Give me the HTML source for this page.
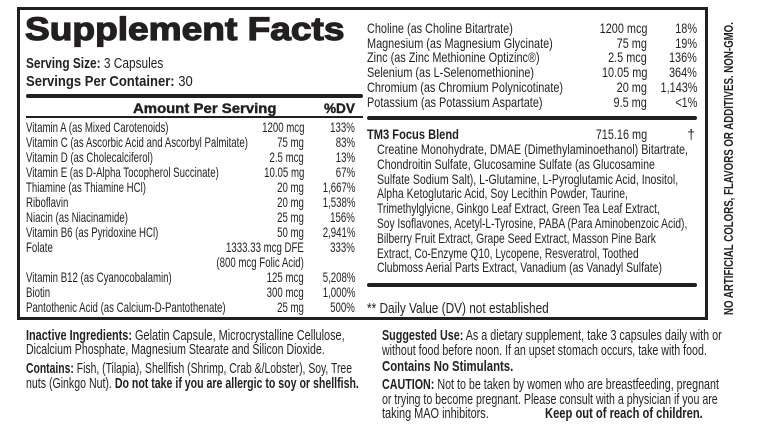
<!DOCTYPE html>
<html><head><meta charset="utf-8">
<style>
html,body{margin:0;padding:0;background:#fff;}
#root{position:relative;width:769px;height:427px;overflow:hidden;background:#fff;color:#231f20;font-family:"Liberation Sans Narrow","Liberation Sans",sans-serif;}
.t{position:absolute;white-space:nowrap;font-size:14px;line-height:14px;transform-origin:left center;}
.r{transform-origin:right center;}
b{font-family:"Liberation Sans",sans-serif;font-weight:bold;}
.rule{position:absolute;background:#231f20;border-radius:2px;}
</style></head>
<body>
<div id="root">
<div style="position:absolute;left:17px;top:7px;width:685px;height:307px;border:3px solid #231f20;"></div>

<div class="t" data-w="320" style="left:25px;top:13px;font-family:'Liberation Sans',sans-serif;font-weight:900;font-size:32px;line-height:32px;-webkit-text-stroke:1.2px #231f20;">Supplement Facts</div>
<div class="t" data-w="137" style="left:26px;top:56px;font-size:15px;line-height:15px;"><b>Serving Size:</b> 3 Capsules</div>
<div class="t" data-w="167" style="left:26px;top:74px;font-size:15px;line-height:15px;"><b>Servings Per Container:</b> 30</div>
<div class="rule" style="left:26px;top:94px;width:337px;height:4px;"></div>
<div class="t" data-w="144" style="left:133px;top:101px;-webkit-text-stroke:0.4px #231f20;"><b>Amount Per Serving</b></div>
<div class="t" data-w="31" style="left:324px;top:101px;-webkit-text-stroke:0.4px #231f20;"><b>%DV</b></div>
<div class="rule" style="left:26px;top:116px;width:337px;height:2px;border-radius:0;"></div>

<div id="left-rows"></div>

<div id="right-rows"></div>
<div class="rule" style="left:367px;top:116px;width:330px;height:4px;"></div>
<div class="t" data-w="92" style="left:367px;top:127px;"><b>TM3 Focus Blend</b></div>
<div class="t r" data-g="R" style="right:122px;top:127px;">715.16 mg</div>
<div class="t r" style="right:74px;top:127px;">†</div>
<div id="blend-lines"></div>
<div class="rule" style="left:367px;top:283px;width:330px;height:4px;"></div>
<div class="t" data-w="182" style="left:367px;top:301px;font-size:15px;line-height:15px;">** Daily Value (DV) not established</div>

<div class="t" data-w="319" style="left:26px;top:328px;font-size:15px;line-height:15px;"><b>Inactive Ingredients:</b> Gelatin Capsule, Microcrystalline Cellulose,</div>
<div class="t" data-w="299" style="left:26px;top:342px;font-size:15px;line-height:15px;">Dicalcium Phosphate, Magnesium Stearate and Silicon Dioxide.</div>
<div class="t" data-w="326" style="left:26px;top:361px;font-size:15px;line-height:15px;"><b>Contains:</b> Fish, (Tilapia), Shellfish (Shrimp, Crab &amp;/Lobster), Soy, Tree</div>
<div class="t" data-w="333" style="left:26px;top:376px;font-size:15px;line-height:15px;">nuts (Ginkgo Nut). <b>Do not take if you are allergic to soy or shellfish.</b></div>

<div class="t" data-w="340" style="left:382px;top:328px;font-size:15px;line-height:15px;"><b>Suggested Use:</b> As a dietary supplement, take 3 capsules daily with or</div>
<div class="t" data-w="325" style="left:382px;top:343px;font-size:15px;line-height:15px;">without food before noon. If an upset stomach occurs, take with food.</div>
<div class="t" data-w="131" style="left:382px;top:359px;font-size:15px;line-height:15px;"><b>Contains No Stimulants.</b></div>
<div class="t" data-w="337" style="left:382px;top:377px;font-size:15px;line-height:15px;"><b>CAUTION:</b> Not to be taken by women who are breastfeeding, pregnant</div>
<div class="t" data-w="336" style="left:382px;top:392px;font-size:15px;line-height:15px;">or trying to become pregnant. Please consult with a physician if you are</div>
<div class="t" data-w="107" style="left:382px;top:406px;font-size:15px;line-height:15px;">taking MAO inhibitors.</div>
<div class="t" data-w="158" style="left:545px;top:406px;font-size:15px;line-height:15px;"><b>Keep out of reach of children.</b></div>

<div class="t" id="vert" style="left:728px;top:315px;font-size:13px;line-height:13px;"><b>NO ARTIFICIAL COLORS, FLAVORS OR ADDITIVES. NON-GMO.</b></div>
</div>
<script>
const leftNames=["Vitamin A (as Mixed Carotenoids)","Vitamin C (as Ascorbic Acid and Ascorbyl Palmitate)","Vitamin D (as Cholecalciferol)","Vitamin E (as D-Alpha Tocopherol Succinate)","Thiamine (as Thiamine HCl)","Riboflavin","Niacin (as Niacinamide)","Vitamin B6 (as Pyridoxine HCl)","Folate","","Vitamin B12 (as Cyanocobalamin)","Biotin","Pantothenic Acid (as Calcium-D-Pantothenate)"];
const leftAmounts=["1200 mcg","75 mg","2.5 mcg","10.05 mg","20 mg","20 mg","25 mg","50 mg","1333.33 mcg DFE","(800 mcg Folic Acid)","125 mcg","300 mcg","25 mg"];
const leftDV=["133%","83%","13%","67%","1,667%","1,538%","156%","2,941%","333%","","5,208%","1,000%","500%"];
const rightNames=["Choline (as Choline Bitartrate)","Magnesium (as Magnesium Glycinate)","Zinc (as Zinc Methionine Optizinc®)","Selenium (as L-Selenomethionine)","Chromium (as Chromium Polynicotinate)","Potassium (as Potassium Aspartate)"];
const rightAmounts=["1200 mcg","75 mg","2.5 mcg","10.05 mg","20 mg","9.5 mg"];
const rightDV=["18%","19%","136%","364%","1,143%","<1%"];
const blendLines=["Creatine Monohydrate, DMAE (Dimethylaminoethanol) Bitartrate,","Chondroitin Sulfate, Glucosamine Sulfate (as Glucosamine","Sulfate Sodium Salt), L-Glutamine, L-Pyroglutamic Acid, Inositol,","Alpha Ketoglutaric Acid, Soy Lecithin Powder, Taurine,","Trimethylglyicne, Ginkgo Leaf Extract, Green Tea Leaf Extract,","Soy Isoflavones, Acetyl-L-Tyrosine, PABA (Para Aminobenzoic Acid),","Bilberry Fruit Extract, Grape Seed Extract, Masson Pine Bark","Extract, Co-Enzyme Q10, Lycopene, Resveratrol, Toothed","Clubmoss Aerial Parts Extract, Vanadium (as Vanadyl Sulfate)"];
const blendEnds=[688,655,678,628,660,687,656,639,662];

function mk(parent,cls,text,style,g){
  const d=document.createElement('div');
  d.className=cls;d.textContent=text;d.style.cssText=style;
  if(g)d.dataset.g=g;
  parent.appendChild(d);return d;
}
const L=document.getElementById('left-rows');
leftNames.forEach((n,i)=>{
  const y=120+i*15;
  if(n){const e=mk(L,'t',n,`left:26px;top:${y}px;`,'L');
  
  }
  const a=mk(L,'t r',leftAmounts[i],`right:${769-304}px;top:${y}px;`,'L');
  
  
  if(leftDV[i]){const d=mk(L,'t r',leftDV[i],`right:${769-355}px;top:${y}px;`,'L');
  
  }
});
const R=document.getElementById('right-rows');
rightNames.forEach((n,i)=>{
  const y=21+i*14.7;
  const e=mk(R,'t',n,`left:367px;top:${y}px;`,'R');
  
  
  const a=mk(R,'t r',rightAmounts[i],`right:${769-647}px;top:${y}px;`,'R');
  
  
  const d=mk(R,'t r',rightDV[i],`right:${769-697}px;top:${y}px;`,'R');
  
  
});
const B=document.getElementById('blend-lines');
blendLines.forEach((n,i)=>{
  const e=mk(B,'t',n,`left:377px;top:${142+i*14.8}px;`);
  e.dataset.w=blendEnds[i]-377;
  
  
});
function groupScale(g,idx,w){
  const els=[...document.querySelectorAll(`[data-g="${g}"]`)].filter(e=>!e.classList.contains('r'));
  return w/els[idx].offsetWidth;
}
const sc={L:groupScale('L',1,222),R:groupScale('R',4,196)};
document.querySelectorAll('[data-g]').forEach(e=>{e.style.transform=`scaleX(${sc[e.dataset.g]})`;});
document.querySelectorAll('[data-w]').forEach(e=>{e.style.transform=`scaleX(${(+e.dataset.w)/e.offsetWidth})`;});
const v=document.getElementById('vert');
const vs=293/v.offsetWidth;
v.style.transformOrigin='0 0';
v.style.transform=`translate(-6px,0) rotate(-90deg) scaleX(${vs})`;
</script>
</body></html>
